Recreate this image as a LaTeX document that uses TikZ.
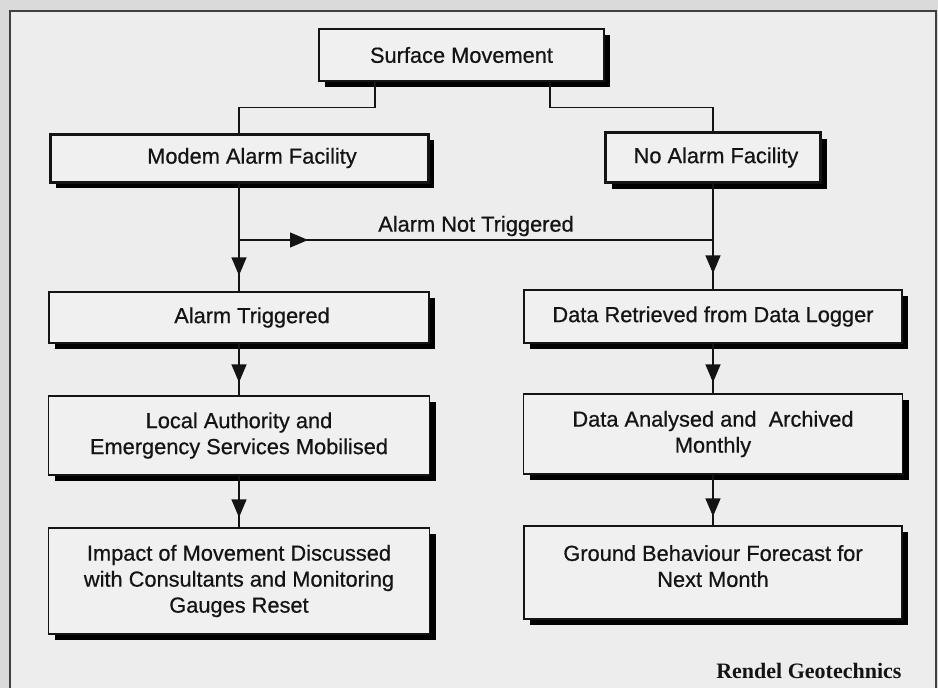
\documentclass[tikz,border=0pt]{standalone}
\usepackage{fontspec}
\setmainfont{Liberation Sans}[FakeBold=0.6]
\newfontfamily\rendelfont{Liberation Serif}
\usetikzlibrary{arrows.meta,shadows,decorations.markings}
\definecolor{outerbg}{HTML}{DADADA}
\definecolor{innerbg}{HTML}{EDEDED}
\definecolor{boxfill}{HTML}{F0F0F0}
\definecolor{ink}{HTML}{141414}
\begin{document}
\begin{tikzpicture}[x=1pt,y=-1pt,
  box/.style={draw=ink, line width=1.2pt, fill=boxfill, align=center, inner sep=0pt, text=ink,
    font=\fontsize{21.8}{26}\selectfont,
    general shadow={fill=black, shadow xshift=6pt, shadow yshift=-6pt}},
  thickbox/.style={box, line width=3pt},
  conn/.style={draw=ink, line width=1.2pt},
  midarrow/.style={postaction={decorate}, decoration={markings,
    mark=at position #1 with {\arrow[ink]{Triangle[width=15pt,length=18pt]}}}}
]
\useasboundingbox (0,0) rectangle (938,688);
\clip (0,0) rectangle (938,688);
\fill[outerbg] (0,0) rectangle (938,688);
\draw[fill=innerbg, draw=black!75, line width=1.5pt] (10,11) rectangle (936,720);

\node[box, minimum width=285pt, minimum height=52pt] (sm) at (461.5,55) {Surface Movement};
\node[thickbox, minimum width=378pt, minimum height=48pt] (modem) at (239,158) {\hspace*{26pt}Modem Alarm Facility};
\node[thickbox, minimum width=215pt, minimum height=50pt] (noalarm) at (713,157.5) {\hspace*{6pt}No Alarm Facility};

\node[box, minimum width=380pt, minimum height=51pt] (at) at (239,317.5) {\hspace*{26pt}Alarm Triggered};
\node[box, minimum width=381pt, minimum height=79pt] (la) at (239,435.5) {Local Authority and\\Emergency Services Mobilised};
\node[box, minimum width=381pt, minimum height=106pt] (im) at (239,581) {Impact of Movement Discussed\\with Consultants and Monitoring\\Gauges Reset};

\node[box, minimum width=378pt, minimum height=53pt] (dr) at (713,316.5) {Data Retrieved from Data Logger};
\node[box, minimum width=379pt, minimum height=80pt] (da) at (713,434) {Data Analysed and\ \ Archived\\Monthly};
\node[box, minimum width=378pt, minimum height=93pt] (gb) at (713,572.5) {Ground Behaviour Forecast for\\Next Month\\[-13pt]\mbox{}};

\draw[conn] ([xshift=-86.5pt]sm.south) -- ++(0,26) -| (modem.north);
\draw[conn] ([xshift=88.5pt]sm.south) -- ++(0,26) -| (noalarm.north);

\coordinate (jl) at (239,240);
\coordinate (jr) at (713,240);

\draw[conn, midarrow=-16pt] (modem.south) -- (at.north);
\draw[conn, midarrow=69pt] (jl) -- (jr);
\draw[conn, midarrow=-13pt] (at.south) -- (la.north);
\draw[conn, midarrow=-10pt] (la.south) -- (im.north);

\draw[conn, midarrow=-16pt] (noalarm.south) -- (dr.north);
\draw[conn, midarrow=-11pt] (dr.south) -- (da.north);
\draw[conn, midarrow=-9pt] (da.south) -- (gb.north);

\node[text=ink, font=\fontsize{21.8}{26}\selectfont] (ant) at (476,226) {Alarm Not Triggered};
\node[anchor=base east, text=ink, font=\rendelfont\bfseries\fontsize{22}{26}\selectfont] (rg) at (905,678) {Rendel Geotechnics};
\end{tikzpicture}
\end{document}
